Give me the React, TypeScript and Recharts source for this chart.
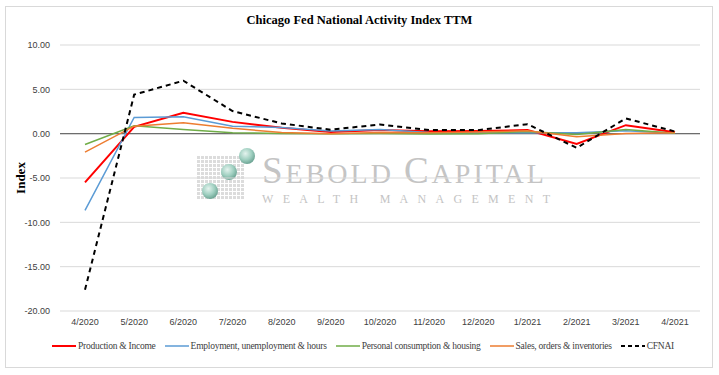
import React from 'react'
import { LineChart, CartesianGrid, XAxis, YAxis, Line, Legend, ReferenceLine } from 'recharts'

// months on the x axis
const months = ['4/2020', '5/2020', '6/2020', '7/2020', '8/2020', '9/2020', '10/2020', '11/2020', '12/2020', '1/2021', '2/2021', '3/2021', '4/2021']

// component contributions
const production = [-5.5, 0.77, 2.35, 1.33, 0.66, 0.2, 0.4, 0.28, 0.3, 0.4, -1.15, 0.96, 0.15]
const employment = [-8.65, 1.83, 1.9, 0.85, 0.7, 0.3, 0.47, 0.12, 0.1, 0.1, 0.1, 0.32, 0.05]
const personal = [-1.22, 0.9, 0.47, 0.1, 0.02, 0.0, 0.02, -0.05, 0.0, 0.25, -0.1, 0.47, 0.05]
const sales = [-2.09, 0.85, 1.22, 0.6, 0.13, -0.02, 0.13, 0.1, 0.2, 0.32, -0.36, 0.02, 0.1]
const cfnai = [-17.6, 4.4, 5.97, 2.55, 1.15, 0.45, 1.04, 0.4, 0.4, 1.07, -1.6, 1.72, 0.24]

const yTicks = [-20, -15, -10, -5, 0, 5, 10]

const series = [
    { key: 'production', name: 'Production & Income', color: '#ff0000', width: 2, dash: undefined },
    { key: 'employment', name: 'Employment, unemployment & hours', color: '#5b9bd5', width: 1.5, dash: undefined },
    { key: 'personal', name: 'Personal consumption & housing', color: '#70ad47', width: 1.5, dash: undefined },
    { key: 'sales', name: 'Sales, orders & inventories', color: '#ed7d31', width: 1.5, dash: undefined },
    { key: 'cfnai', name: 'CFNAI', color: '#000000', width: 2, dash: '5 4' },
]

const data = months.map((m, i) => ({
    month: m,
    production: production[i],
    employment: employment[i],
    personal: personal[i],
    sales: sales[i],
    cfnai: cfnai[i],
}))

const serif = '"Liberation Serif", "DejaVu Serif", serif'
const sans = '"Liberation Sans", Arial, sans-serif'

function LegendContent() {
    return (
        <div style={{ display: 'flex', justifyContent: 'center', alignItems: 'center', paddingLeft: 16, fontFamily: serif, fontSize: 9.5, letterSpacing: -0.25, color: '#404040' }}>
            {series.map(s => (
                <div key={s.key} style={{ display: 'flex', alignItems: 'center', marginRight: 9 }}>
                    <svg width={24} height={8}>
                        <line x1={0} y1={4} x2={24} y2={4} stroke={s.color} strokeWidth={s.width} strokeDasharray={s.dash ? '4 3' : undefined} />
                    </svg>
                    <span style={{ marginLeft: 2 }}>{s.name}</span>
                </div>
            ))}
        </div>
    )
}

function Watermark() {
    const squares = []
    for (let r = 0; r < 11; r++) {
        for (let c = 0; c < 12; c++) {
            squares.push(<rect key={r + '-' + c} x={197 + c * 4} y={156 + r * 4} width={3} height={3} fill="#dcdcdc" />)
        }
    }
    return (
        <svg width={719} height={375} style={{ position: 'absolute', left: 0, top: 0 }}>
            <defs>
                <radialGradient id="ball" cx="0.4" cy="0.35" r="0.65">
                    <stop offset="0%" stopColor="#e4f3ee" />
                    <stop offset="60%" stopColor="#9fcfc0" />
                    <stop offset="100%" stopColor="#6ea595" />
                </radialGradient>
            </defs>
            {squares}
            <circle cx={210} cy={191} r={8} fill="url(#ball)" />
            <circle cx={229} cy={172} r={8} fill="url(#ball)" />
            <circle cx={247} cy={156} r={8} fill="url(#ball)" />
            <text x={262} y={183} fontFamily={serif} fill="#c4c4c4" letterSpacing={3}>
                <tspan fontSize={37}>S</tspan><tspan fontSize={28}>EBOLD </tspan><tspan fontSize={37}>C</tspan><tspan fontSize={28}>APITAL</tspan>
            </text>
            <text x={262} y={203} fontFamily={serif} fontSize={12} letterSpacing={9.3} fill="#c4c4c4">WEALTH MANAGEMENT</text>
        </svg>
    )
}

export default function App() {
    return (
        <div style={{ position: 'absolute', left: 0, top: 0, width: 719, height: 375, background: '#fff' }}>
            <div style={{ position: 'absolute', left: 5, top: 6, width: 706, height: 360, border: '1px solid #d9d9d9' }} />
            <Watermark />
            <div style={{ position: 'absolute', left: 0, top: 13, width: 719, textAlign: 'center', fontFamily: serif, fontWeight: 'bold', fontSize: 12.5, color: '#000' }}>
                Chicago Fed National Activity Index TTM
            </div>
            <div style={{ position: 'absolute', left: 0, top: 0 }}>
                <LineChart width={719} height={375} data={data} margin={{ top: 45, right: 19, left: 10, bottom: 34 }}>
                    <CartesianGrid vertical={false} stroke="#d9d9d9" />
                    <XAxis dataKey="month" axisLine={false} tickLine={false} interval={0} padding={{ left: 25, right: 25 }}
                        tick={{ fontFamily: sans, fontSize: 9, fill: '#404040' }} />
                    <YAxis domain={[-20, 10]} ticks={yTicks} width={50} axisLine={false} tickLine={false} tickMargin={4}
                        tickFormatter={(v: number) => v.toFixed(2)}
                        tick={{ fontFamily: sans, fontSize: 9, fill: '#404040' }}
                        label={{
                            content: (p: any) => {
                                const vb = p.viewBox
                                const cx = 20
                                const cy = vb.y + vb.height / 2
                                return (
                                    <text x={cx} y={cy} transform={`rotate(-90, ${cx}, ${cy})`} textAnchor="middle" dominantBaseline="central"
                                        fontFamily={serif} fontWeight="bold" fontSize={13} fill="#000">Index</text>
                                )
                            },
                        }} />
                    <ReferenceLine y={0} stroke="#6d6d6d" strokeWidth={1.2} />
                    {series.map(s => (
                        <Line key={s.key} type="linear" dataKey={s.key} name={s.name} stroke={s.color} strokeWidth={s.width}
                            strokeDasharray={s.dash} dot={false} activeDot={false} isAnimationActive={false} />
                    ))}
                    <Legend layout="horizontal" verticalAlign="middle" align="center" content={<LegendContent />}
                        wrapperStyle={{ top: 341, left: 0, width: 719 }} />
                </LineChart>
            </div>
        </div>
    )
}
